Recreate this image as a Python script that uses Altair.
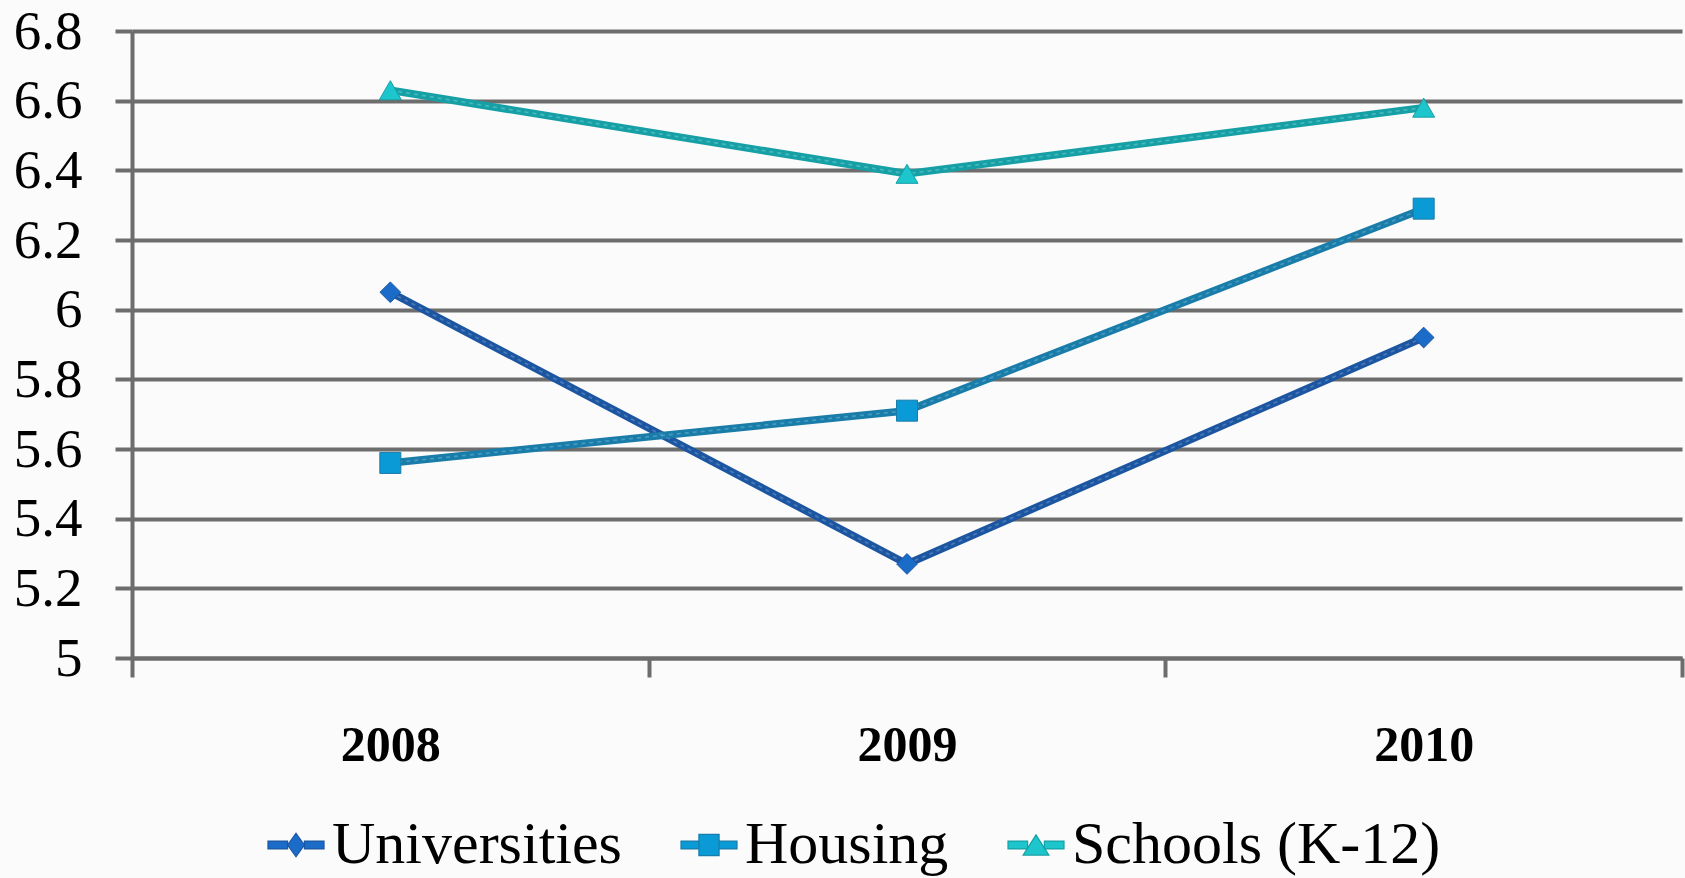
import altair as alt
import pandas as pd

years = [2008, 2009, 2010]
series = ["Universities", "Housing", "Schools (K-12)"]
universities = [6.05, 5.27, 5.92]
housing = [5.56, 5.71, 6.29]
schools = [6.63, 6.39, 6.58]
y_ticks = [5.0, 5.2, 5.4, 5.6, 5.8, 6.0, 6.2, 6.4, 6.6, 6.8]
x_ticks = [2007.5, 2008, 2008.5, 2009, 2009.5, 2010, 2010.5]

line_colors = ["#1D56A0", "#1A7CA8", "#16A0A6"]
marker_colors = ["#1A6CC8", "#0A9AD6", "#1CC6CC"]
highlight_colors = ["#6E9BD8", "#66B8DA", "#70D0D2"]
marker_shapes = ["diamond", "square", "triangle-up"]
marker_sizes = [430, 441, 484]

legend_paths = [
    "M-1,-0.14L-0.3,-0.14L-0.3,0.14L-1,0.14Z M0.3,-0.14L1,-0.14L1,0.14L0.3,0.14Z M0,-0.42L0.3,0L0,0.42L-0.3,0Z",
    "M-1,-0.14L-0.36,-0.14L-0.36,0.14L-1,0.14Z M0.36,-0.14L1,-0.14L1,0.14L0.36,0.14Z M-0.36,-0.38L0.36,-0.38L0.36,0.38L-0.36,0.38Z",
    "M-1,-0.14L-0.3,-0.14L-0.3,0.14L-1,0.14Z M0.3,-0.14L1,-0.14L1,0.14L0.3,0.14Z M0,-0.36L0.46,0.36L-0.46,0.36Z",
]

values = [universities, housing, schools]
rows = []
for i, s in enumerate(series):
    for j, yr in enumerate(years):
        rows.append({
            "year": yr,
            "series": s,
            "value": values[i][j],
            "line_color": line_colors[i],
            "marker_color": marker_colors[i],
            "hl_color": highlight_colors[i],
            "shape": marker_shapes[i],
            "msize": marker_sizes[i],
        })
df = pd.DataFrame(rows)

FONT = "Liberation Serif"
GRID = "#6D6D6D"

x_enc = alt.X(
    "year:Q",
    scale=alt.Scale(domain=[2007.5, 2010.5], nice=False, zero=False),
    axis=alt.Axis(
        values=x_ticks,
        title=None,
        grid=False,
        domain=True,
        domainColor=GRID,
        domainWidth=4,
        ticks=True,
        tickSize=19,
        tickWidth=4,
        tickColor=GRID,
        tickOpacity={"condition": {"test": "datum.value % 1 !== 0", "value": 1}, "value": 0},
        labelExpr="datum.value % 1 === 0 ? format(datum.value, 'd') : ''",
        labelFont=FONT,
        labelFontSize=50,
        labelFontWeight="bold",
        labelColor="#000000",
        labelBaseline="alphabetic",
        labelPadding=83,
        labelOverlap=False,
        labelFlush=False,
        labelBound=False,
    ),
)

y_enc = alt.Y(
    "value:Q",
    scale=alt.Scale(domain=[5, 6.8], nice=False, zero=False),
    axis=alt.Axis(
        values=y_ticks,
        title=None,
        format="~g",
        grid=True,
        gridColor=GRID,
        gridWidth=4,
        domain=True,
        domainColor=GRID,
        domainWidth=4,
        ticks=True,
        tickSize=17,
        tickWidth=4,
        tickColor=GRID,
        labelFont=FONT,
        labelFontSize=55,
        labelColor="#000000",
        labelPadding=33,
        labelOverlap=False,
        labelFlush=False,
        labelBound=False,
    ),
)

base = alt.Chart(df)

lines = base.mark_line(strokeWidth=7.5, strokeCap="round", strokeJoin="round").encode(
    x=x_enc,
    y=y_enc,
    detail="series:N",
    color=alt.Color("line_color:N", scale=None),
    order="year:Q",
)

highlights = base.mark_line(strokeWidth=1.8, strokeDash=[4, 4], opacity=0.5).encode(
    x="year:Q",
    y="value:Q",
    detail="series:N",
    color=alt.Color("hl_color:N", scale=None),
    order="year:Q",
)

points = base.mark_point(filled=True, opacity=1, strokeWidth=1).encode(
    x="year:Q",
    y="value:Q",
    fill=alt.Fill("marker_color:N", scale=None),
    stroke=alt.Stroke("line_color:N", scale=None),
    shape=alt.Shape("shape:N", scale=None),
    size=alt.Size("msize:Q", scale=None),
)

legend_layer = base.transform_filter("false").mark_point(filled=True, opacity=1, strokeWidth=1.2).encode(
    x="year:Q",
    y="value:Q",
    fill=alt.Fill(
        "series:N",
        scale=alt.Scale(domain=series, range=marker_colors),
        legend=alt.Legend(
            title=None,
            orient="none",
            legendX=134,
            legendY=784,
            direction="horizontal",
            columns=3,
            columnPadding=56,
            symbolSize=3136,
            symbolStrokeWidth=1.2,
            symbolOpacity=1,
            labelFont=FONT,
            labelFontSize=60,
            labelColor="#000000",
            labelOffset=6,
            labelLimit=0,
            rowPadding=0,
        ),
    ),
    stroke=alt.Stroke("series:N", scale=alt.Scale(domain=series, range=line_colors)),
    shape=alt.Shape("series:N", scale=alt.Scale(domain=series, range=legend_paths)),
)

chart = (
    alt.layer(lines, highlights, points, legend_layer)
    .properties(
        width=1550,
        height=627,
        autosize=alt.AutoSizeParams(type="none"),
        padding={"left": 132, "top": 31, "right": 3, "bottom": 220},
        background="#FBFBFB",
    )
    .configure_view(stroke=None)
)

chart.save("out.html", embed_options={"renderer": "svg", "actions": False})
